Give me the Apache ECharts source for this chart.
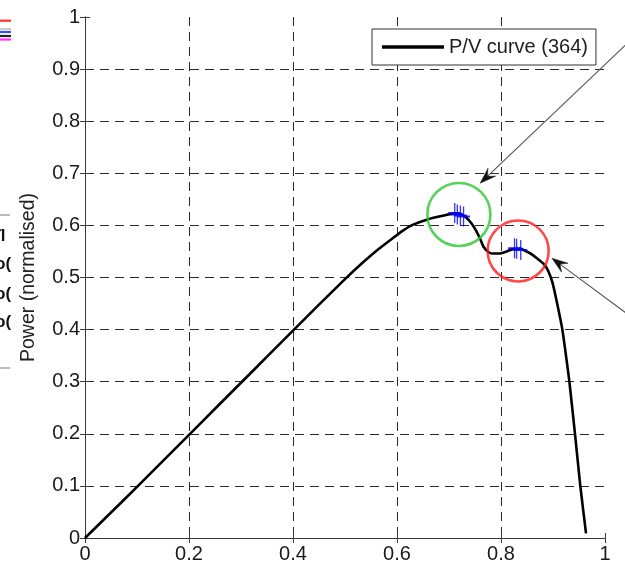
<!DOCTYPE html>
<html>
<head>
<meta charset="utf-8">
<script src="https://cdn.jsdelivr.net/npm/echarts@6/dist/echarts.min.js"></script>
<style>
html,body{margin:0;padding:0;background:#fff;}
#chart{width:625px;height:565px;}
</style>
</head>
<body>
<div id="chart"></div>
<script>
// ---- data ----
const pvX = [0,0.05,0.1,0.15,0.2,0.25,0.3,0.35,0.4,0.45,0.5,0.53,0.56,0.59,0.61,0.63,0.66,0.69,0.71,0.722,0.733,0.743,0.752,0.76,0.767,0.777,0.786,0.796,0.808,0.821,0.836,0.855,0.869,0.883,0.891,0.899,0.908,0.918,0.925,0.9315,0.9423,0.9525,0.9635];
const pvY = [0,0.049,0.098,0.148,0.198,0.248,0.298,0.348,0.398,0.448,0.497,0.525,0.551,0.574,0.589,0.601,0.612,0.619,0.623,0.622,0.615,0.604,0.59,0.574,0.558,0.548,0.546,0.546,0.549,0.554,0.555,0.547,0.537,0.525,0.512,0.49,0.45,0.4,0.35,0.3,0.2,0.1,0.009];
const markAX = [0.711,0.716,0.722,0.728];
const markAY = [0.624,0.621,0.619,0.617];
const markBX = [0.826,0.830,0.838];
const markBY = [0.556,0.555,0.553];
const circleX = [0.719,0.833];
const circleY = [0.621,0.551];
const arrowTailX = [1.07,1.07];
const arrowTailY = [0.975,0.41];
const arrowTipX = [0.760,0.898];
const arrowTipY = [0.681,0.537];
const xTickLabels = ['0','0.2','0.4','0.6','0.8','1'];
const yTickLabels = ['0','0.1','0.2','0.3','0.4','0.5','0.6','0.7','0.8','0.9','1'];
const seriesName = 'P/V curve (364)';
const yName = 'Power (normalised)';

const zip = (a,b) => a.map((v,i)=>[v,b[i]]);
const FONT = 'Liberation Sans, Arial, sans-serif';
const plusPath = 'path://M5,0L5,20M0,10L10,10';

const chart = echarts.init(document.getElementById('chart'), null, {renderer:'canvas'});
const gridLine = {show:true, showMinLine:false, showMaxLine:false, lineStyle:{color:'#2a2a2a', type:[9,6], width:1}};
const frame = {show:true, lineStyle:{color:'#3a3a3a', width:1}};
const tick = {show:true, inside:true, length:5, lineStyle:{color:'#3a3a3a'}};
const option = {
  animation:false,
  backgroundColor:'#fff',
  grid:{left:85, right:20, top:17, bottom:27, containLabel:false},
  legend:{
    show:true, left:372, top:29, orient:'horizontal',
    backgroundColor:'#fff', borderColor:'#333', borderWidth:1,
    padding:[8,8,8,10], itemWidth:62, itemHeight:3.5, icon:'rect',
    textStyle:{fontFamily:FONT, fontSize:20, color:'#222'},
    data:[seriesName]
  },
  xAxis:[
    {type:'value', min:0, max:1, interval:0.2, position:'bottom',
     axisLine:frame, axisTick:tick, splitLine:gridLine,
     axisLabel:{margin:6, fontFamily:FONT, fontSize:20, color:'#1a1a1a',
       formatter:(v)=>xTickLabels[Math.round(v/0.2)]}},
    {type:'value', min:0, max:1, interval:0.2, position:'top',
     axisLine:frame, axisTick:tick, splitLine:{show:false}, axisLabel:{show:false}}
  ],
  yAxis:[
    {type:'value', min:0, max:1, interval:0.1, position:'left',
     axisLine:frame, axisTick:tick, splitLine:gridLine,
     name:yName, nameLocation:'middle', nameGap:46, nameRotate:90,
     nameTextStyle:{fontFamily:FONT, fontSize:19.5, color:'#222'},
     axisLabel:{margin:5, fontFamily:FONT, fontSize:20, color:'#1a1a1a',
       formatter:(v)=>yTickLabels[Math.round(v/0.1)]}},
    {type:'value', min:0, max:1, interval:0.1, position:'right',
     axisLine:frame, axisTick:tick, splitLine:{show:false}, axisLabel:{show:false}}
  ],
  series:[
    {name:seriesName, type:'line', data:zip(pvX,pvY), symbol:'none', smooth:0.15,
     lineStyle:{color:'#000', width:2.6}, itemStyle:{color:'#000'}, z:3},
    {name:'markA', type:'scatter', data:zip(markAX,markAY), symbol:plusPath, symbolSize:[13,20],
     itemStyle:{color:'rgba(0,0,0,0)', borderColor:'#0000ff', borderWidth:1.6}, z:5},
    {name:'markB', type:'scatter', data:zip(markBX,markBY), symbol:plusPath, symbolSize:[13,20],
     itemStyle:{color:'rgba(0,0,0,0)', borderColor:'#0000ff', borderWidth:1.6}, z:5},
    {name:'circleA', type:'scatter', data:[[circleX[0],circleY[0]]], symbol:'circle', symbolSize:63,
     itemStyle:{color:'rgba(0,0,0,0)', borderColor:'#2ec52e', borderWidth:2.6}, z:4},
    {name:'circleB', type:'scatter', data:[[circleX[1],circleY[1]]], symbol:'circle', symbolSize:61,
     itemStyle:{color:'rgba(0,0,0,0)', borderColor:'#ff1a1a', borderWidth:2.6}, z:4}
  ]
};
chart.setOption(option);

// arrows (annotation) positioned through the grid's own scales
const graphics = [];
for (let i=0;i<arrowTipX.length;i++){
  const t = chart.convertToPixel({gridIndex:0},[arrowTipX[i],arrowTipY[i]]);
  const s = chart.convertToPixel({gridIndex:0},[arrowTailX[i],arrowTailY[i]]);
  const dx=t[0]-s[0], dy=t[1]-s[1], len=Math.hypot(dx,dy);
  const ux=dx/len, uy=dy/len, nx=-uy, ny=ux;
  const L=16, W=11;
  const back=[t[0]-ux*L, t[1]-uy*L];
  const mid=[t[0]-ux*L*0.62, t[1]-uy*L*0.62];
  graphics.push({type:'line', shape:{x1:s[0],y1:s[1],x2:mid[0],y2:mid[1]},
    style:{stroke:'#555', lineWidth:1.1}, z:10});
  graphics.push({type:'polygon', shape:{points:[t,[back[0]+nx*W/2,back[1]+ny*W/2],mid,[back[0]-nx*W/2,back[1]-ny*W/2]]},
    style:{fill:'#111', stroke:'#111', lineWidth:0.5}, z:10});
}
// cropped fragments of a neighbouring figure at the left edge
const leftBars = [[20.7,'#ff3030'],[29,'#cccccc'],[32,'#3050ff'],[36,'#222'],[39.5,'#ff30ff']];
leftBars.forEach(b=>graphics.push({type:'line', shape:{x1:0,y1:b[0],x2:11,y2:b[0]}, style:{stroke:b[1], lineWidth:2.2}, z:10}));
graphics.push({type:'line', shape:{x1:0,y1:215,x2:10,y2:215}, style:{stroke:'#bbb', lineWidth:2}, z:10});
graphics.push({type:'line', shape:{x1:0,y1:368,x2:10,y2:368}, style:{stroke:'#bbb', lineWidth:2}, z:10});
const frag = [['ĩl',228],['ɔ(',256],['ɔ(',286],['ɔ(',314]];
frag.forEach(f=>graphics.push({type:'text', x:-4, y:f[1], style:{text:f[0], font:'bold 17px '+FONT, fill:'#111'}, z:10}));
chart.setOption({graphic:graphics});
</script>
</body>
</html>
